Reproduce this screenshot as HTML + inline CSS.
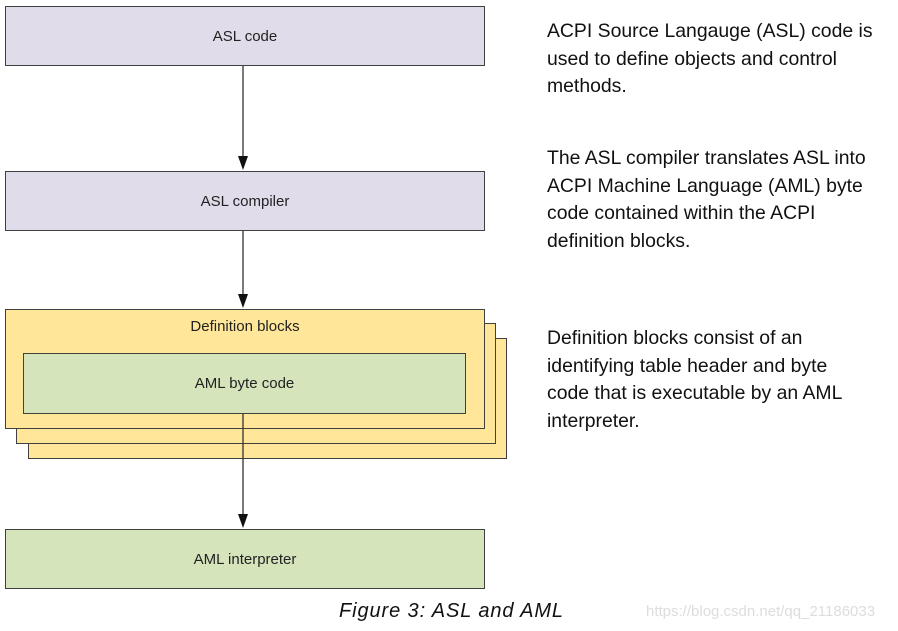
<!DOCTYPE html>
<html><head><meta charset="utf-8"><style>
body{margin:0;width:898px;height:631px;background:#fff;position:relative;overflow:hidden;font-family:"Liberation Sans",sans-serif;}
.b{position:absolute;border:1px solid #404040;box-sizing:border-box;display:flex;align-items:center;justify-content:center;font-size:15px;color:#222;}
.t{position:absolute;left:547px;font-size:19.4px;line-height:27.6px;color:#111;white-space:nowrap;}
</style></head><body>
<div class="b" style="left:5px;top:6px;width:480px;height:60px;background:#e0dcea">ASL code</div>
<div class="b" style="left:5px;top:171px;width:480px;height:60px;background:#e0dcea">ASL compiler</div>
<div class="b" style="left:28px;top:338px;width:479px;height:121px;background:#ffe699"></div>
<div class="b" style="left:16px;top:323px;width:480px;height:121px;background:#ffe699"></div>
<div class="b" style="left:5px;top:309px;width:480px;height:120px;background:#ffe699;align-items:flex-start;padding-top:8px">Definition blocks</div>
<div class="b" style="left:23px;top:353px;width:443px;height:61px;background:#d6e4bc">AML byte code</div>
<div class="b" style="left:5px;top:529px;width:480px;height:60px;background:#d6e4bc">AML interpreter</div>
<svg style="position:absolute;left:0;top:0" width="898" height="631">
<g stroke="#333" stroke-width="1.3" fill="#111">
<line x1="243" y1="66" x2="243" y2="158"/><polygon points="238,156 248,156 243,170" stroke="none"/>
<line x1="243" y1="231" x2="243" y2="296"/><polygon points="238,294 248,294 243,308" stroke="none"/>
<line x1="243" y1="414" x2="243" y2="516"/><polygon points="238,514 248,514 243,528" stroke="none"/>
</g></svg>
<div class="t" style="top:18px">ACPI Source Langauge (ASL) code is<br>used to define objects and control<br>methods.</div>
<div class="t" style="top:145px">The ASL compiler translates ASL into<br>ACPI Machine Language (AML) byte<br>code contained within the ACPI<br>definition blocks.</div>
<div class="t" style="top:325px">Definition blocks consist of an<br>identifying table header and byte<br>code that is executable by an AML<br>interpreter.</div>
<div style="position:absolute;left:339px;top:600px;font-size:20px;letter-spacing:0.9px;font-style:italic;color:#111;white-space:nowrap">Figure 3: ASL and AML</div>
<div style="position:absolute;left:646px;top:603px;font-size:15px;color:#ddd;white-space:nowrap">https://blog.csdn.net/qq_21186033</div>
</body></html>
